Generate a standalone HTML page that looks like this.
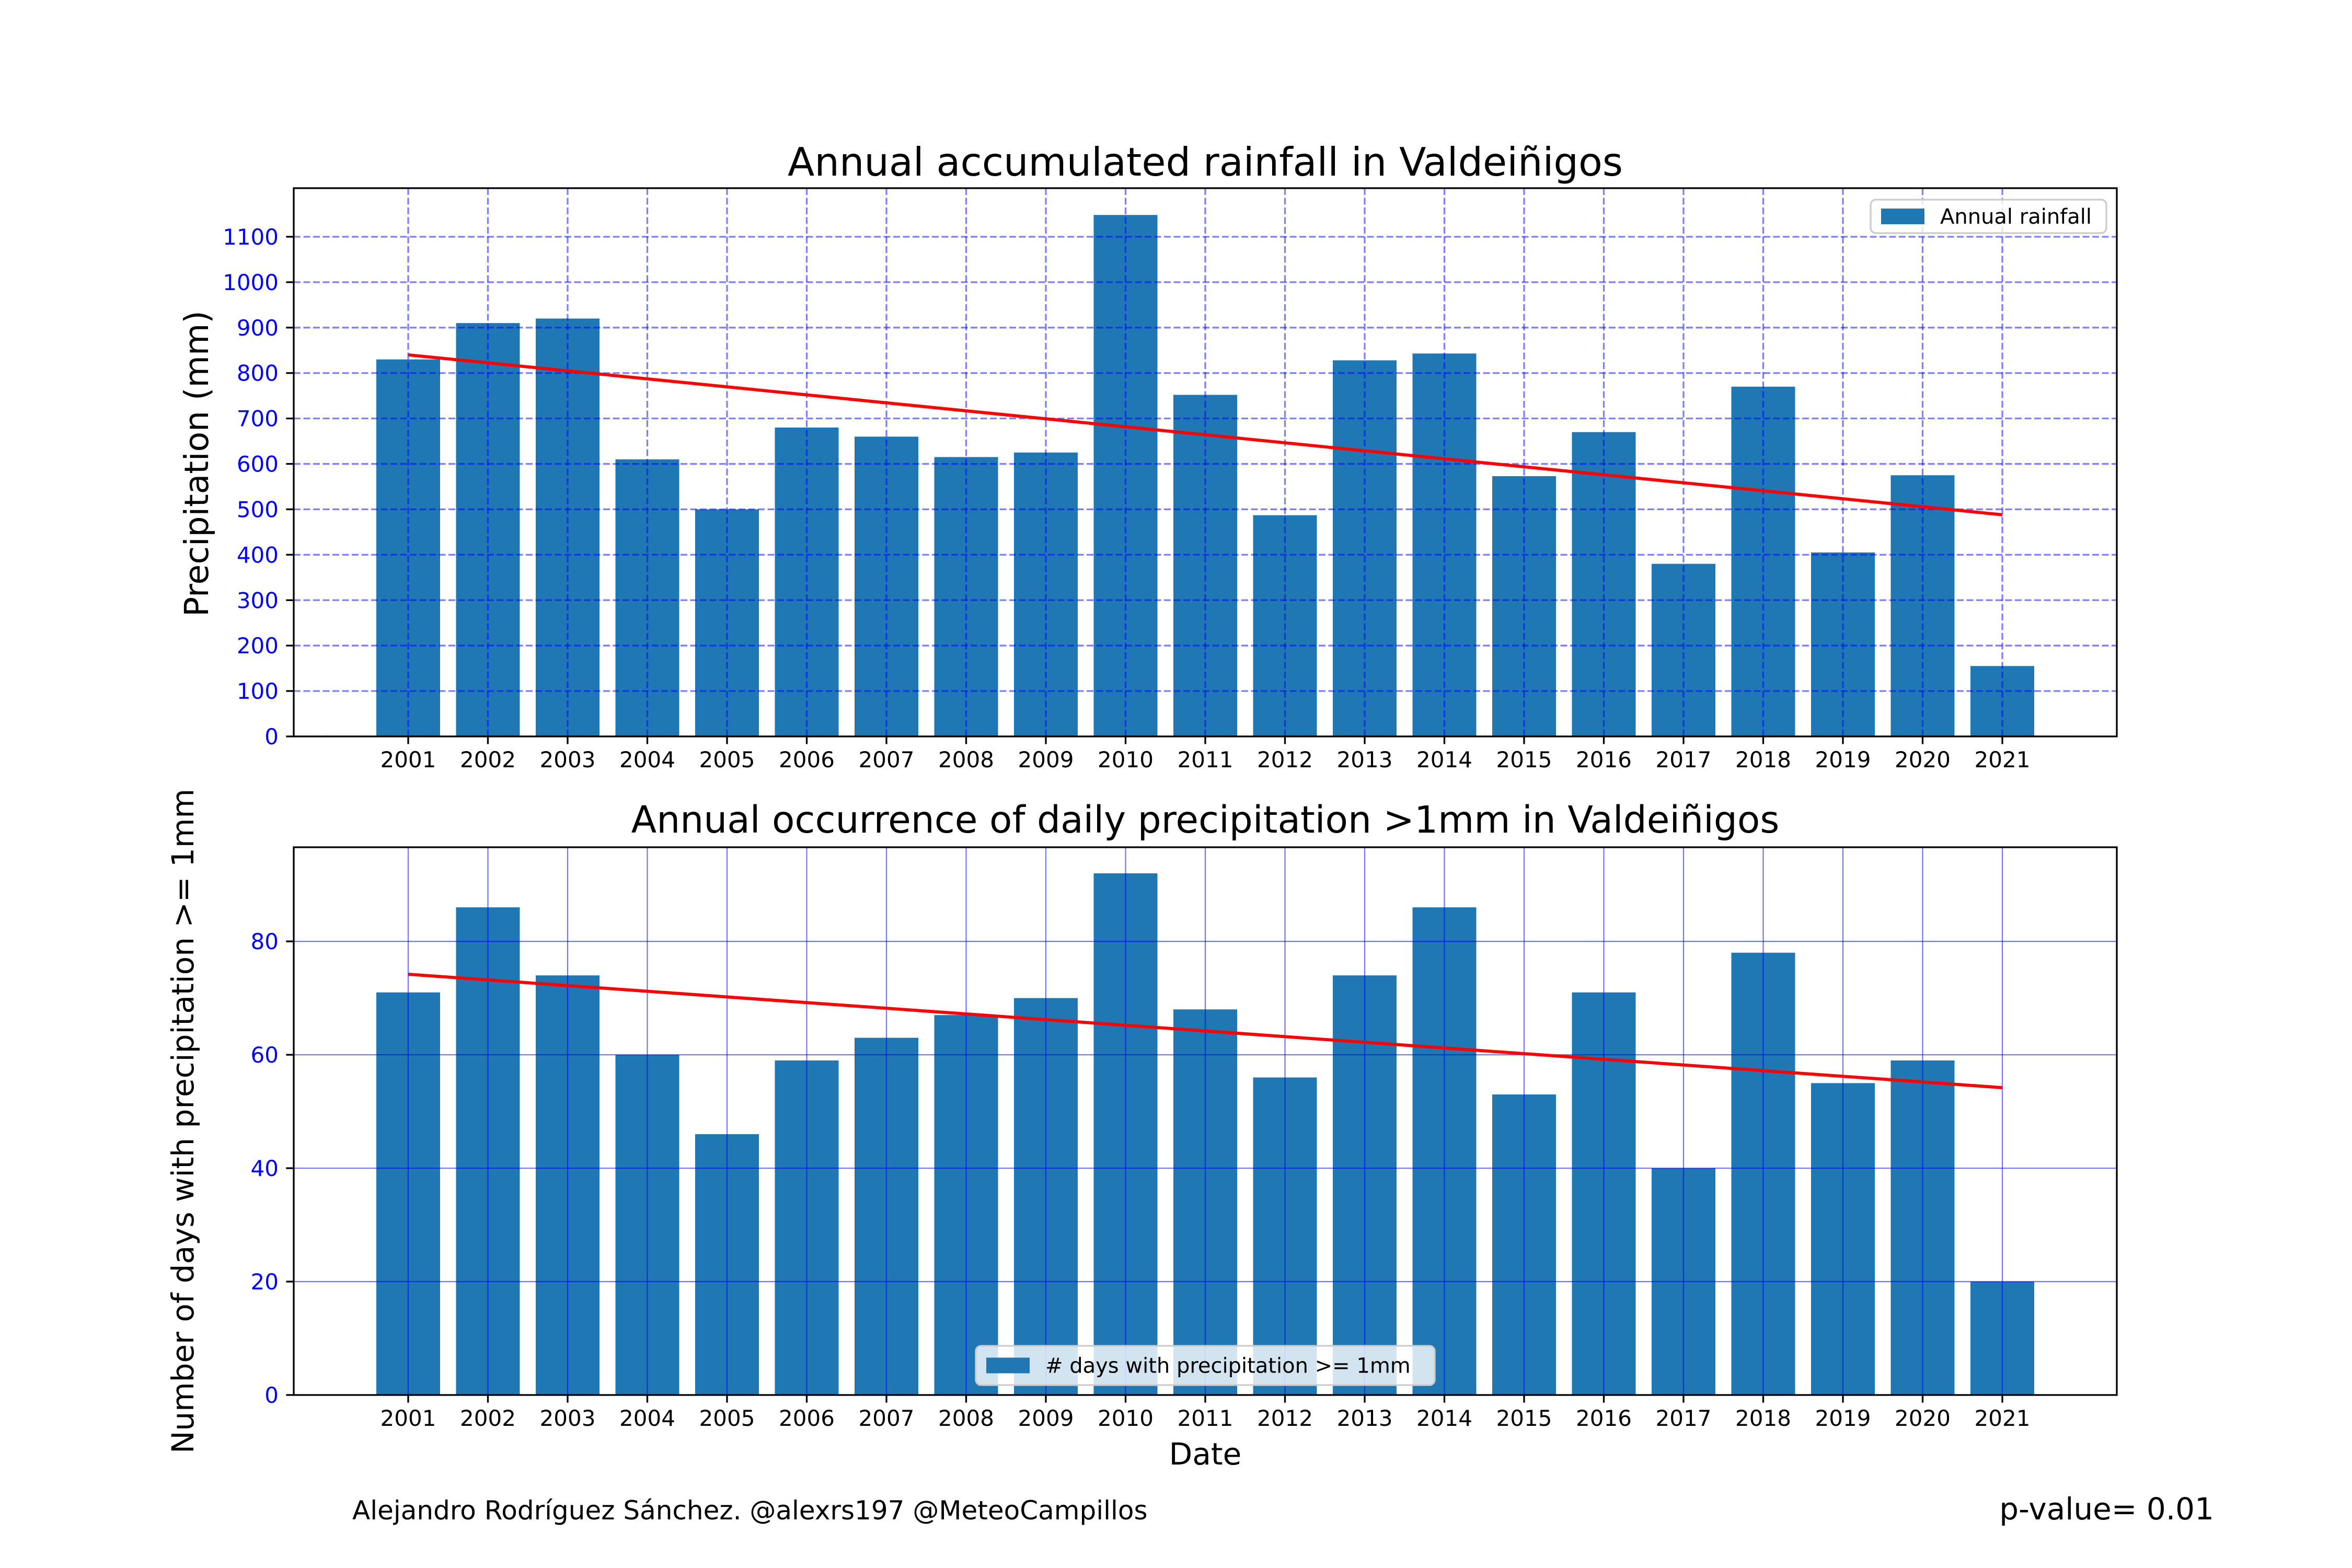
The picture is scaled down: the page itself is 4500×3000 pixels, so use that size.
<!DOCTYPE html>
<html><head><meta charset="utf-8"><style>
html,body{margin:0;padding:0;background:#fff;}
svg{display:block;font-family:"DejaVu Sans","Liberation Sans",sans-serif;}
</style></head><body>
<svg id="fig" width="4500" height="3000" viewBox="0 0 4500 3000" xmlns="http://www.w3.org/2000/svg">
<rect width="4500" height="3000" fill="#fff"/>
<g id="top"></g>
<g id="bot"></g>
<text x="2306" y="336" font-size="75" text-anchor="middle">Annual accumulated rainfall in Valdeiñigos</text>
<text x="2306" y="1593" font-size="71" text-anchor="middle">Annual occurrence of daily precipitation &gt;1mm in Valdeiñigos</text>
<text transform="translate(398,887) rotate(-90)" font-size="63" text-anchor="middle">Precipitation (mm)</text>
<text transform="translate(370,2145) rotate(-90)" font-size="58" text-anchor="middle">Number of days with precipitation &gt;= 1mm</text>
<text x="2306" y="2802" font-size="58" text-anchor="middle">Date</text>
<text x="674" y="2907" font-size="50">Alejandro Rodríguez Sánchez. @alexrs197 @MeteoCampillos</text>
<text x="4236" y="2907" font-size="58" text-anchor="end">p-value= 0.01</text>
</svg>
<script>
const years = ["2001","2002","2003","2004","2005","2006","2007","2008","2009","2010","2011","2012","2013","2014","2015","2016","2017","2018","2019","2020","2021"];
const rainfall = [830,910,920,610,500,680,660,615,625,1148,752,487,828,843,573,670,380,770,405,575,155];
const rainTrend = [840,488];
const rainTicks = [0,100,200,300,400,500,600,700,800,900,1000,1100];
const rainDays = [71,86,74,60,46,59,63,67,70,92,68,56,74,86,53,71,40,78,55,59,20];
const daysTrend = [74.2,54.2];
const daysTicks = [0,20,40,60,80];

const NS="http://www.w3.org/2000/svg";
function mk(tag,attrs,parent){const e=document.createElementNS(NS,tag);for(const k in attrs)e.setAttribute(k,attrs[k]);parent.appendChild(e);return e;}
const L=562,R=4050,x0=781,step=152.5;
function xs(i){return x0+i*step;}

function panel(g,top,bottom,ymax,vals,trend,ticks,dashed,legendText,legendBox,prefix){
  const ys=v=>bottom-(v/ymax)*(bottom-top);
  const bars=mk('g',{},g);
  
  
  vals.forEach((v,i)=>{
    const r=mk('rect',{x:xs(i)-61,y:ys(v),width:122,height:bottom-ys(v),fill:'#1f77b4'},bars);
    
    
  });
  const grid=mk('g',{stroke:'#0000ff','stroke-opacity':dashed?0.5:0.55,'stroke-width':dashed?3.3:2.2,'stroke-dasharray':dashed?'13 5.5':'none'},g);
  
  
  years.forEach((y,i)=>mk('line',{x1:xs(i),x2:xs(i),y1:top,y2:bottom},grid));
  ticks.forEach(t=>mk('line',{x1:L,x2:R,y1:ys(t),y2:ys(t)},grid));
  const tr=mk('line',{x1:xs(0),y1:ys(trend[0]),x2:xs(years.length-1),y2:ys(trend[1]),stroke:'#ff0000','stroke-width':6},g);
  
  
  const ax=mk('g',{stroke:'#000','stroke-width':3.3},g);
  mk('rect',{x:L,y:top,width:R-L,height:bottom-top,fill:'none'},ax);
  years.forEach((y,i)=>{
    mk('line',{x1:xs(i),x2:xs(i),y1:bottom,y2:bottom+14.6},ax);
    const t=mk('text',{x:xs(i),y:bottom+59,'font-size':42,'text-anchor':'middle',fill:'#000',stroke:'none'},g);
    t.textContent=y;
    
    
  });
  ticks.forEach(v=>{
    mk('line',{x1:L-14.6,x2:L,y1:ys(v),y2:ys(v),stroke:'#000','stroke-width':3.3},g);
    const t=mk('text',{x:L-29,y:ys(v)+15,'font-size':42,'text-anchor':'end',fill:'#0000ff'},g);
    t.textContent=v;
    
    
  });
  const lg=mk('g',{},g);
  
  
  const [bx,by,bw,bh]=legendBox;
  mk('rect',{x:bx,y:by,width:bw,height:bh,rx:10,fill:'#fff','fill-opacity':0.8,stroke:'#cccccc','stroke-width':3.3},lg);
  mk('rect',{x:bx+20,y:by+bh/2-15,width:83,height:30,fill:'#1f77b4'},lg);
  const lt=mk('text',{x:bx+133,y:by+bh/2+14,'font-size':40},lg);
  lt.textContent=legendText;
}
panel(document.getElementById('top'),360,1409,1207,rainfall,rainTrend,rainTicks,true,'Annual rainfall',[3579,382,451,64],'rainfall');
panel(document.getElementById('bot'),1621,2669,96.6,rainDays,daysTrend,daysTicks,false,'# days with precipitation >= 1mm',[1867,2575,878,75],'days');
</script>
</body></html>
